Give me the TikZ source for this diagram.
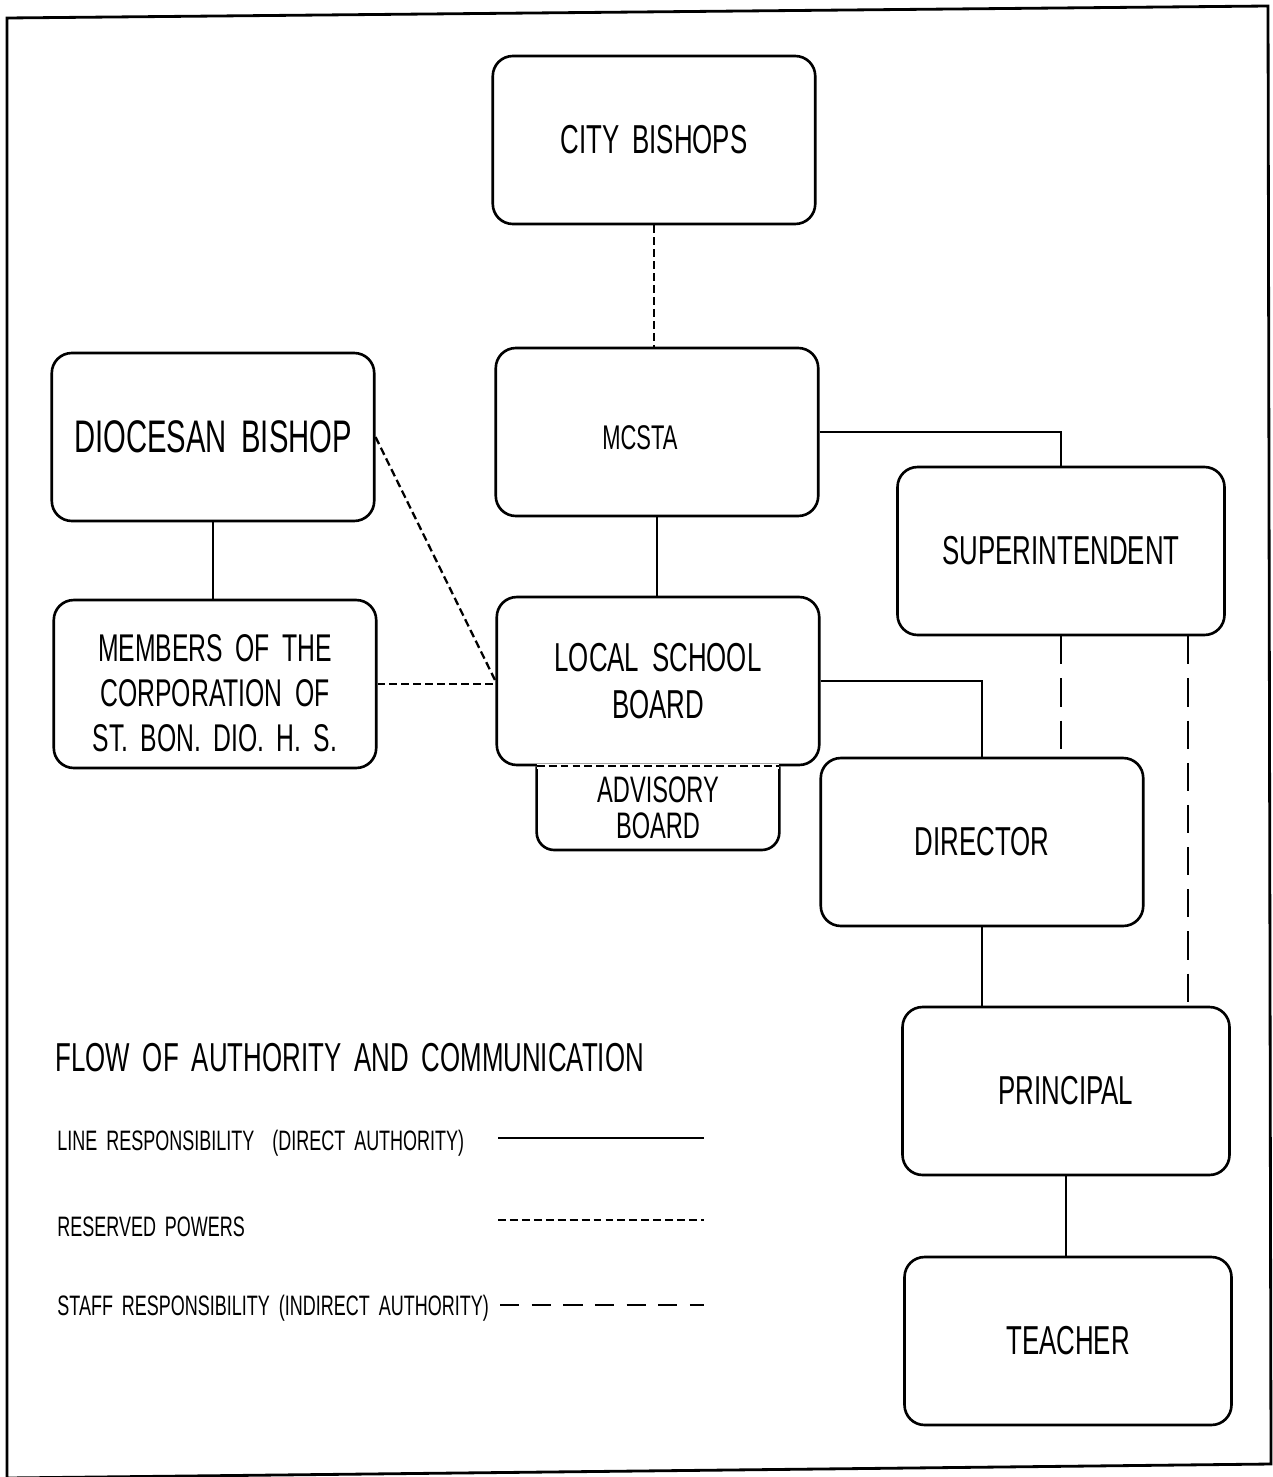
\documentclass[tikz,border=0pt]{standalone}
\usepackage{fontspec}
\newfontfamily\plotfont[FakeStretch=0.64, WordSpace=1.8]{Liberation Sans}
\usetikzlibrary{positioning}

\begin{document}
\begin{tikzpicture}[x=0.02cm, y=-0.02cm,
  box/.style={rectangle, draw, rounded corners=0.4cm, line width=1.5pt,
              minimum width=6.45cm, minimum height=3.36cm, align=center,
              font=\plotfont\fontsize{23}{27}\selectfont},
  direct/.style={line width=1.3pt},
  reserved/.style={line width=1.3pt, dash pattern=on 4.5pt off 2.3pt},
  staff/.style={line width=1.3pt, dash pattern=on 16pt off 8pt},
  lg/.style={anchor=west, inner sep=0pt, font=\plotfont\fontsize{16}{19}\selectfont}
]
\useasboundingbox (0,0) rectangle (1273,1477);
\draw[line width=1.6pt] (7,18) -- (1268,6) -- (1271,1464) -- (7,1478) -- cycle;

\node[box] (bishops) at (654,140) {CITY BISHOPS};
\node[box, font=\plotfont\fontsize{19.5}{24}\selectfont] (mcsta) at (657,432)
  {\rule{0pt}{19.6pt}\hspace*{-1em}MCSTA};
\node[box, font=\plotfont\fontsize{26}{30}\selectfont] (diocesan) at (213,437) {DIOCESAN BISHOP};
\node[box, minimum width=6.54cm] (super) at (1061,551) {SUPERINTENDENT};
\node[box, font=\plotfont\fontsize{22}{25.6}\selectfont] (members) at (215,684)
  {\rule{0pt}{26pt}MEMBERS OF THE\\CORPORATION OF\\ST. BON. DIO. H. S.};
\node[box] (lsb) at (658,681) {LOCAL SCHOOL\\BOARD};
\node[inner sep=0pt, minimum width=4.84cm, minimum height=1.66cm, align=center,
      font=\plotfont\fontsize{21}{20.5}\selectfont, below=0pt of lsb] (advisory)
  {ADVISORY\\BOARD};
\node[box] (director) at (982,842) {DIRECTOR};
\node[box, minimum width=6.54cm] (principal) at (1066,1091) {PRINCIPAL};
\node[box, minimum width=6.54cm] (teacher) at (1068,1341) {TEACHER};

% advisory board hangs under the local board
\draw[direct, line width=1.5pt, rounded corners=0.35cm] (advisory.north west) -- (advisory.south west)
  -- (advisory.south east) -- (advisory.north east);
\draw[white, line width=2.6pt] (advisory.north west) -- (advisory.north east);
\draw[reserved] (advisory.north west) -- (advisory.north east);

\draw[reserved] (bishops.south) -- (bishops.south |- mcsta.north);
\draw[direct] (mcsta.south) -- (mcsta.south |- lsb.north);
\draw[direct] (mcsta.east) -| (super.north);
\draw[direct] (diocesan.south) -- (diocesan.south |- members.north);
\draw[reserved] (diocesan.east) -- (lsb.west);
\draw[reserved] (members.east) -- (lsb.west |- members.east);
\draw[direct] (lsb.east) -| (director.north);
\draw[staff] (super.south) -- (super.south |- director.north);
\coordinate (staffTop) at ([xshift=-0.76cm]super.south east);
\draw[staff] (staffTop) -- (staffTop |- principal.north);
\draw[direct] (director.south) -- (director.south |- principal.north);
\draw[direct] (principal.south) -- (principal.south |- teacher.north);

% legend
\node[anchor=west, inner sep=0pt, font=\plotfont\fontsize{23}{27}\selectfont] (flow) at (55,1058)
  {FLOW OF AUTHORITY AND COMMUNICATION};
\node[lg] (lineLbl) at (57,1143) {LINE RESPONSIBILITY \ (DIRECT AUTHORITY)};
\node[lg] (resLbl) at (57,1227) {RESERVED POWERS};
\node[lg] (staffLbl) at (57,1308) {STAFF RESPONSIBILITY (INDIRECT AUTHORITY)};
\coordinate (lineA) at (498,1138);  \coordinate (lineB) at (704,1138);
\coordinate (resA) at (498,1220);   \coordinate (resB) at (704,1220);
\coordinate (staffA) at (500,1305); \coordinate (staffB) at (704,1305);
\draw[direct] (lineA) -- (lineB);
\draw[reserved] (resA) -- (resB);
\draw[staff, dash pattern=on 11pt off 7pt] (staffA) -- (staffB);
\end{tikzpicture}
\end{document}
